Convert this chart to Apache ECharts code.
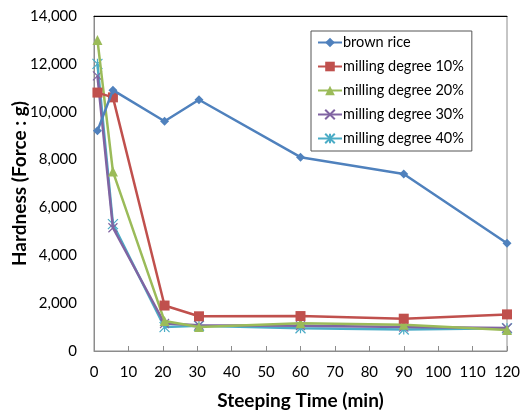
<!DOCTYPE html>
<html>
<head>
<meta charset="utf-8">
<script src="https://cdn.jsdelivr.net/npm/echarts@6/dist/echarts.min.js"></script>
<style>
  html, body { margin: 0; padding: 0; background: #fff; }
  #chart { width: 526px; height: 413px; }
</style>
</head>
<body>
<div id="chart"></div>
<script>
// steeping time (min) of each measurement
const times = [1, 5.5, 20.5, 30.5, 60, 90, 120];

const seriesNames = ['brown rice', 'milling degree 10%', 'milling degree 20%', 'milling degree 30%', 'milling degree 40%'];
const brownRice = [9200, 10900, 9600, 10500, 8100, 7400, 4500];
const milling10 = [10800, 10600, 1900, 1450, 1460, 1350, 1530];
const milling20 = [13000, 7500, 1250, 1000, 1160, 1100, 880];
const milling30 = [11500, 5150, 1150, 1080, 1060, 1000, 960];
const milling40 = [12000, 5300, 1000, 1050, 950, 900, 950];

const colors = ['#4F81BD', '#C0504D', '#9BBB59', '#8064A2', '#4BACC6'];
const xMark = 'path://M0,0L10,10M10,0L0,10';
const starMark = 'path://M0,0L10,10M10,0L0,10M5,0L5,10';
const symbols = ['diamond', 'rect', 'triangle', xMark, starMark];
const symbolSizes = [9, 10, 10, 9, 10];

const allValues = [brownRice, milling10, milling20, milling30, milling40];

const font = 'Lato, "Open Sans", sans-serif';

const chart = echarts.init(document.getElementById('chart'));

chart.setOption({
  animation: false,
  backgroundColor: '#fff',
  color: colors,
  grid: {
    left: 94, right: 19, top: 16, bottom: 62,
    outerBoundsMode: 'none',
    containLabel: false,
    show: true, borderColor: '#8c8c8c', borderWidth: 1
  },
  legend: {
    orient: 'vertical',
    left: 311, top: 31,
    width: 159,
    padding: [4, 8, 5, 6],
    itemGap: 9,
    itemWidth: 24, itemHeight: 12,
    borderColor: '#555', borderWidth: 1,
    backgroundColor: '#fff',
    textStyle: { fontFamily: font, fontSize: 14.5, color: '#000', padding: [0, 0, 0, -4] },
    data: seriesNames
  },
  xAxis: [{
    type: 'value',
    min: 0, max: 120, interval: 10,
    name: 'Steeping Time (min)',
    nameLocation: 'middle',
    nameGap: 40,
    nameMoveOverlap: false,
    nameTextStyle: { fontFamily: font, fontSize: 19, fontWeight: 'bold', color: '#000' },
    axisLine: { show: true, lineStyle: { color: '#8c8c8c' } },
    axisTick: { show: true, inside: true, length: 5, lineStyle: { color: '#8c8c8c' } },
    axisLabel: { fontFamily: font, fontSize: 15, color: '#000', margin: 14 },
    splitLine: { show: false }
  }, {
    type: 'value',
    position: 'top',
    min: 0, max: 120,
    axisLine: { show: true, lineStyle: { color: '#000', width: 1 } },
    axisTick: { show: false },
    axisLabel: { show: false },
    splitLine: { show: false }
  }],
  yAxis: {
    type: 'value',
    min: 0, max: 14000, interval: 2000,
    name: 'Hardness (Force : g)',
    nameLocation: 'middle',
    nameGap: 65,
    nameMoveOverlap: false,
    nameTextStyle: { fontFamily: font, fontSize: 19, fontWeight: 'bold', color: '#000' },
    axisLine: { show: true, lineStyle: { color: '#8c8c8c' } },
    axisTick: { show: false },
    axisLabel: {
      fontFamily: font, fontSize: 15, color: '#000', margin: 17,
      formatter: v => v.toLocaleString('en-US')
    },
    splitLine: { show: false }
  },
  series: seriesNames.map((name, i) => ({
    name: name,
    type: 'line',
    xAxisIndex: 0,
    data: times.map((t, j) => [t, allValues[i][j]]),
    symbol: symbols[i],
    symbolSize: symbolSizes[i],
    showAllSymbol: true,
    lineStyle: { width: 2.5, color: colors[i] },
    itemStyle: i >= 3
      ? { color: 'transparent', borderColor: colors[i], borderWidth: 1.2 }
      : { color: colors[i], borderWidth: 0 },
    z: 10 - i
  }))
});
</script>
</body>
</html>
